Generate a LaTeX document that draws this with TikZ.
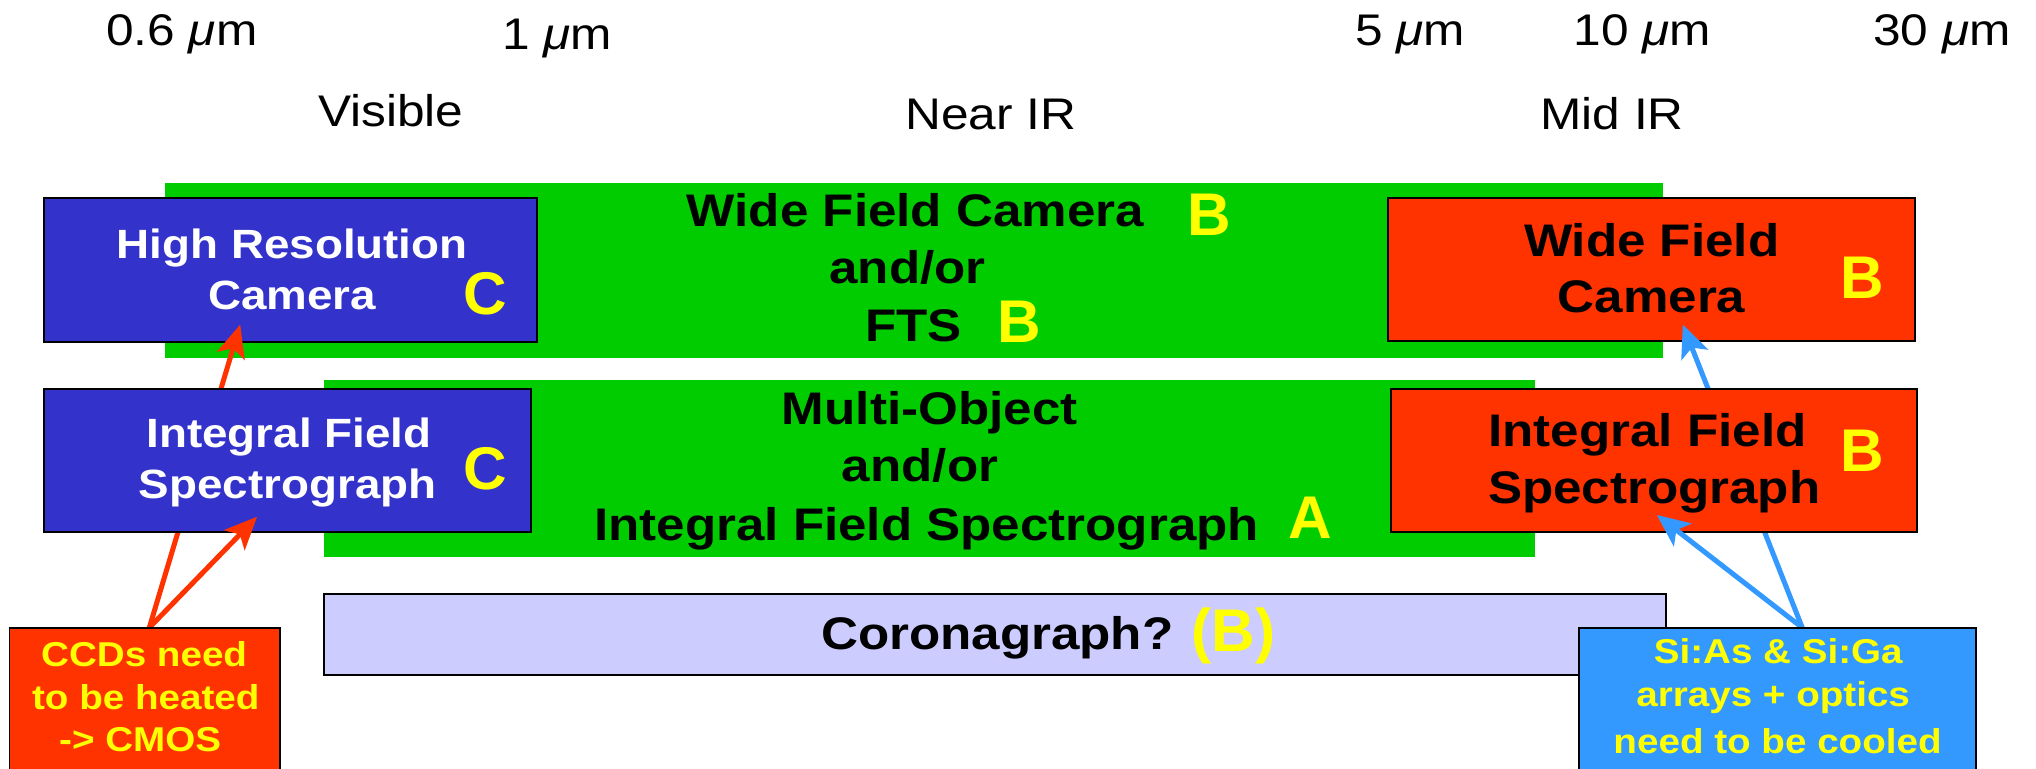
\documentclass[tikz,border=0pt]{standalone}
\usepackage{fontspec}
\setmainfont{Liberation Sans}[FakeStretch=1.12]
\newfontfamily\gradefont{Liberation Sans}
\usetikzlibrary{arrows.meta,fit}

\definecolor{bandgreen}{RGB}{0,204,0}
\definecolor{visblue}{RGB}{51,51,204}
\definecolor{irred}{RGB}{255,51,0}
\definecolor{gradeyellow}{RGB}{255,255,0}
\definecolor{corolilac}{RGB}{204,204,255}
\definecolor{coolblue}{RGB}{51,153,255}

\begin{document}
\begin{tikzpicture}[x=0.01cm, y=-0.01cm,
  band/.style={fill=bandgreen, draw=none, inner sep=0pt, outer sep=0pt},
  panel/.style={draw=black, line width=0.4pt, inner sep=0pt, outer sep=0pt},
  bigtxt/.style={anchor=base, inner sep=0pt, font=\fontsize{10}{11}\selectfont\bfseries},
  whitetxt/.style={anchor=base, inner sep=0pt, text=white, font=\fontsize{8.95}{10}\selectfont\bfseries},
  grade/.style={anchor=base, inner sep=0pt, text=gradeyellow, font=\gradefont\fontsize{13.2}{14}\selectfont\bfseries},
  notetxt/.style={anchor=base, inner sep=0pt, text=gradeyellow, font=\fontsize{7.55}{9}\selectfont\bfseries},
  scaletxt/.style={anchor=base, inner sep=0pt, font=\fontsize{9.7}{11}\selectfont},
  linkarrow/.style={line width=1.1pt, -{Stealth[length=2.5mm,width=2.2mm,inset=0.6mm]}},
  redarrow/.style={linkarrow, draw=irred},
  bluearrow/.style={linkarrow, draw=coolblue}]

\useasboundingbox (0,0) rectangle (1568,592);
\clip (0,0) rectangle (1568,592);

% wavelength scale
\node[scaletxt] (l06) at (140,34.7) {0.6 \textit{μ}m};
\node[scaletxt] (l1)  at (429,38.5) {1 \textit{μ}m};
\node[scaletxt] (l5)  at (1086,34.7) {5 \textit{μ}m};
\node[scaletxt] (l10) at (1265,34.7) {10 \textit{μ}m};
\node[scaletxt] (l30) at (1495.5,34.7) {30 \textit{μ}m};
\node[scaletxt] (vis) at (301,97.6) {Visible};
\node[scaletxt] (nir) at (763,100) {Near IR};
\node[scaletxt] (mir) at (1241.5,100) {Mid IR};

% green instrument bands
\node[band, fit={(127,141) (1281,275.6)}] (band1) {};
\node[band, fit={(249.3,292.6) (1182,428.7)}] (band2) {};

\node[bigtxt] (wfcam) at (705,174.6) {Wide Field Camera};
\node[grade]  (wfcamg) at (931,181) {B};
\node[bigtxt] (andor1) at (699,218) {and/or};
\node[bigtxt] (fts) at (703.7,263) {FTS};
\node[grade]  (ftsg) at (785,264) {B};

\node[bigtxt] (mos) at (716,327.3) {Multi-Object};
\node[bigtxt] (andor2) at (708.6,371) {and/or};
\node[bigtxt] (mifs) at (713.6,416) {Integral Field Spectrograph};
\node[grade]  (mifsg) at (1009,415) {A};

% upper boxes
\node[panel, fill=visblue, fit={(33.7,152.6) (413.5,263.5)}] (hrc) {};
\node[whitetxt] (hrc1) at (225,199) {High Resolution};
\node[whitetxt] (hrc2) at (225,238) {Camera};
\node[grade] (hrcg) at (373.5,242) {C};

\node[panel, fill=irred, fit={(1069,152.6) (1475,262.4)}] (wfc) {};
\node[bigtxt] (wfc1) at (1272,197.7) {Wide Field};
\node[bigtxt] (wfc2) at (1272,241) {Camera};
\node[grade] (wfcg) at (1434,229.6) {B};

% arrow end points
\coordinate (ccdtop) at (115,483.4);
\coordinate (sitop) at (1388,483.4);
\coordinate (hrctip) at (185,250);
\coordinate (wfctip) at (1296,250);
\coordinate (ifsltip) at (198,398);
\coordinate (ifsrtip) at (1276,396.6);

% arrows running behind the spectrograph boxes
\draw[redarrow] (ccdtop) -- (hrctip);
\draw[bluearrow] (sitop) -- (wfctip);

% spectrograph boxes
\node[panel, fill=visblue, fit={(33.7,299.6) (409,410)}] (ifsl) {};
\node[whitetxt] (ifsl1) at (222.5,345) {Integral Field};
\node[whitetxt] (ifsl2) at (221.6,384) {Spectrograph};
\node[grade] (ifslg) at (373.5,377) {C};

\node[panel, fill=irred, fit={(1071,299.6) (1476.5,410)}] (ifsr) {};
\node[bigtxt] (ifsr1) at (1268.7,344) {Integral Field};
\node[bigtxt] (ifsr2) at (1274,387.5) {Spectrograph};
\node[grade] (ifsrg) at (1434,363.3) {B};

\draw[redarrow] (ccdtop) -- (ifsltip);
\draw[bluearrow] (sitop) -- (ifsrtip);

% coronagraph
\node[panel, fill=corolilac, fit={(249.3,457.4) (1283,519.8)}] (coro) {};
\node[bigtxt] (coro1) at (768,500) {Coronagraph?};
\node[grade] (corog) at (950,502) {(B)};

% detector notes
\node[panel, fill=irred, fit={(7.3,483.4) (215.6,610)}] (ccd) {};
\node[notetxt] (ccd1) at (111,513.4) {CCDs need};
\node[notetxt] (ccd2) at (112.3,546.8) {to be heated};
\node[notetxt] (ccd3) at (108,578.9) {-> CMOS};

\node[panel, fill=coolblue, fit={(1216,483.4) (1522,610)}] (si) {};
\node[notetxt] (si1) at (1369.5,510.8) {Si:As \& Si:Ga};
\node[notetxt] (si2) at (1365.6,544.3) {arrays + optics};
\node[notetxt] (si3) at (1369,580) {need to be cooled};

\end{tikzpicture}
\end{document}
